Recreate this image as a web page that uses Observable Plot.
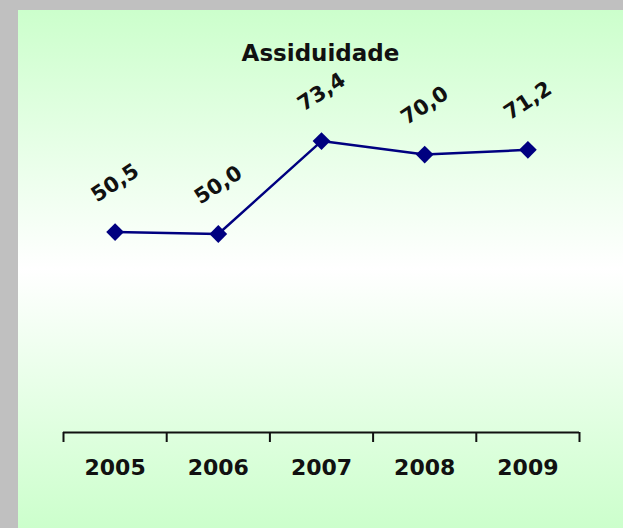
<!DOCTYPE html>
<html>
<head>
<meta charset="utf-8">
<script src="https://cdn.jsdelivr.net/npm/d3@7"></script>
<script src="https://cdn.jsdelivr.net/npm/@observablehq/plot@0.6"></script>
<style>
  html, body { margin: 0; padding: 0; }
  body { width: 623px; height: 528px; background: #c0c0c0; position: relative; overflow: hidden; font-family: "DejaVu Sans", Verdana, sans-serif; }
  #panel { position: absolute; left: 18px; top: 10px; width: 605px; height: 518px;
    background: linear-gradient(to bottom, #ccffcc 0%, #ffffff 50%, #ccffcc 100%); }
  #title { position: absolute; left: 0; top: 32px; width: 605px; text-align: center;
    font-size: 23px; line-height: 23px; font-weight: bold; color: #111; }
  #chart { position: absolute; left: 0; top: 0; }
</style>
</head>
<body>
<div id="panel">
  <div id="chart"></div>
  <div id="title">Assiduidade</div>
</div>
<script>
const years = ["2005", "2006", "2007", "2008", "2009"];
const values = [50.5, 50.0, 73.4, 70.0, 71.2];
const labels = ["50,5", "50,0", "73,4", "70,0", "71,2"];

const data = years.map((year, i) => ({i, year, value: values[i], label: labels[i]}));
const bounds = d3.range(years.length + 1).map(k => k - 0.5);

const chart = Plot.plot({
  width: 605,
  height: 518,
  marginLeft: 45,
  marginRight: 44,
  marginTop: 25,
  marginBottom: 96,
  style: {background: "transparent", fontFamily: "DejaVu Sans, Verdana, sans-serif", overflow: "visible"},
  x: {type: "linear", domain: [-0.5, years.length - 0.5]},
  y: {domain: [0, 100], axis: null},
  marks: [
    Plot.ruleY([0], {stroke: "#111", strokeWidth: 2}),
    Plot.axisX(bounds, {tickSize: 10, tickFormat: () => "", stroke: "#111", strokeWidth: 2, label: null}),
    Plot.axisX(data.map(d => d.i), {tickSize: 0, tickPadding: 27, tickFormat: i => years[i],
      fontSize: 22, fontWeight: "bold", fill: "#111", label: null}),
    Plot.line(data, {x: "i", y: "value", stroke: "#000080", strokeWidth: 2.5}),
    Plot.dot(data, {x: "i", y: "value", symbol: "diamond2", r: 8, fill: "#000080", stroke: "none"}),
    Plot.text(data, {x: "i", y: "value", text: "label", rotate: -33, dy: -49,
      fontSize: 21, fontWeight: "bold", fill: "#111"})
  ]
});
document.getElementById("chart").appendChild(chart);
</script>
</body>
</html>
